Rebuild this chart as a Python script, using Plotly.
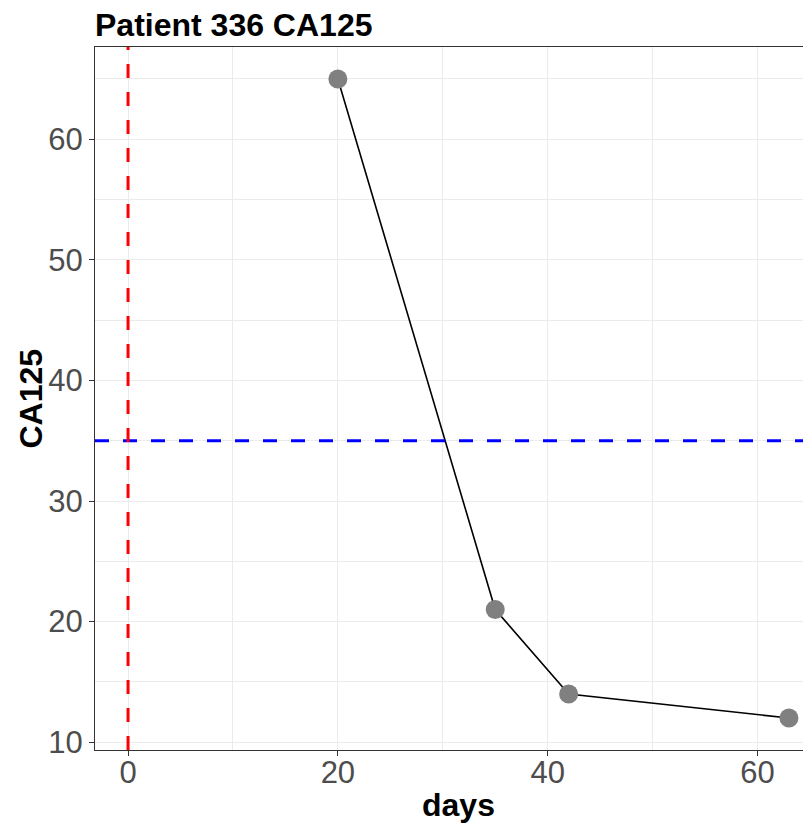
import plotly.graph_objects as go

# Data
days = [20, 35, 42, 63]
ca125 = [65, 21, 14, 12]
threshold = 35
treatment_day = 0
x_ticks = [0, 20, 40, 60]
y_ticks = [10, 20, 30, 40, 50, 60]
title_text = "Patient 336 CA125"
x_label = "days"
y_label = "CA125"

FONT = "Liberation Sans, Arial, Helvetica, sans-serif"
GRID = "#ebebeb"
AX = "#333333"

W, H = 814, 819
L, T, B = 87, 39, 77
PW, PH = W - L, H - T - B

fig = go.Figure()
fig.add_trace(go.Scatter(
    x=days, y=ca125, mode="lines+markers",
    line=dict(color="black", width=1.6),
    marker=dict(color="#808080", size=19, line=dict(width=0)),
    showlegend=False, cliponaxis=False,
))

fig.add_hline(y=threshold, line=dict(color="#0000ff", width=3, dash="14px,14px"))
fig.add_vline(x=treatment_day, line=dict(color="#ff0000", width=3, dash="14px,14px"))

fig.update_layout(
    width=W, height=H,
    margin=dict(l=L, r=0, t=T, b=B),
    paper_bgcolor="white", plot_bgcolor="white",
    font=dict(family=FONT, color="black"),
    title=dict(text="<b>" + title_text + "</b>", x=L/W, xanchor="left",
               y=1 - 28/H, yanchor="bottom", yref="container",
               font=dict(size=32, color="black", family=FONT), pad=dict(b=0)),
    showlegend=False,
)

fig.update_xaxes(
    range=[-3.15, 66.15],
    tickmode="array", tickvals=x_ticks, ticktext=[str(v) for v in x_ticks],
    showgrid=True, gridcolor=GRID, gridwidth=1.2,
    minor=dict(dtick=10, tick0=0, showgrid=True, gridcolor=GRID, gridwidth=0.6),
    showline=True, linecolor=AX, linewidth=1.3, mirror=True,
    ticks="outside", ticklen=5, tickcolor=AX, tickwidth=1.2,
    tickfont=dict(size=31, color="#4d4d4d", family=FONT),
    ticklabelstandoff=-10,
    zeroline=False,
)
fig.update_yaxes(
    range=[9.35, 67.65],
    tickmode="array", tickvals=y_ticks, ticktext=[str(v) for v in y_ticks],
    showgrid=True, gridcolor=GRID, gridwidth=1.2,
    minor=dict(dtick=5, tick0=0, showgrid=True, gridcolor=GRID, gridwidth=0.6),
    showline=True, linecolor=AX, linewidth=1.3, mirror=False,
    ticks="outside", ticklen=5, tickcolor=AX, tickwidth=1.2,
    tickfont=dict(size=31, color="#4d4d4d", family=FONT),
    zeroline=False,
)

fig.add_annotation(text="<b>" + x_label + "</b>", xref="paper", yref="paper",
                   x=(450 - L)/PW, y=-75/PH, xanchor="center", yanchor="bottom",
                   showarrow=False, font=dict(size=32, color="black", family=FONT))
fig.add_annotation(text="<b>" + y_label + "</b>", xref="paper", yref="paper",
                   x=(22 - L)/PW, y=0.5, xanchor="center", yanchor="middle", textangle=-90,
                   showarrow=False, font=dict(size=32, color="black", family=FONT))

fig.write_html("out.html")
